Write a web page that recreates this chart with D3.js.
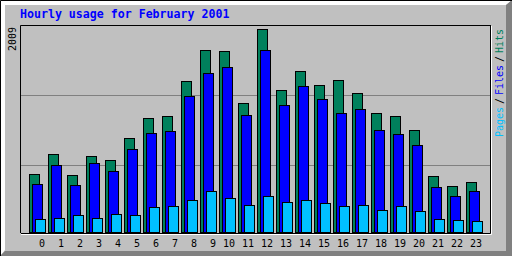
<!DOCTYPE html>
<html>
<head>
<meta charset="utf-8">
<script src="https://cdn.jsdelivr.net/npm/d3@7"></script>
<style>
    html, body { margin: 0; padding: 0; background: #c0c0c0; }
    svg { display: block; }
    text { font-family: "DejaVu Sans Mono", "Liberation Mono", monospace; }
</style>
</head>
<body>
<svg id="hourly" width="512" height="256"></svg>
<script>
// Data
const hours = [0,1,2,3,4,5,6,7,8,9,10,11,12,13,14,15,16,17,18,19,20,21,22,23];
const hits  = [574,772,564,752,713,930,1128,1148,1494,1801,1791,1277,2009,1405,1593,1455,1504,1376,1178,1148,1009,554,455,495];
const files = [475,663,465,683,604,821,980,1000,1346,1574,1633,1158,1801,1257,1445,1316,1178,1217,1009,970,861,445,356,406];
const pages = [129,139,168,139,178,168,247,257,317,406,336,267,356,297,317,287,257,267,218,257,208,129,119,109];
const maxLabel = "2009";
const title = "Hourly usage for February 2001";
const legendItems = ["Pages", "/", "Files", "/", "Hits"];

document.addEventListener("DOMContentLoaded", function() {

    // Display settings
    const W = 512, H = 256;
    const colors = {hits: "#00805c", files: "#0000ff", pages: "#00c0ff", grey: "#c0c0c0", dkgrey: "#808080"};
    const legendColors = [colors.pages, "#000000", colors.files, "#000000", colors.hits];

    const svg = d3.select("#hourly");

    ////////// Frame //////////

    svg.append("rect").attr("width", W).attr("height", H).attr("fill", colors.grey);

    // bevel: white top/left, dark grey bottom/right
    svg.append("polygon")
        .attr("points", `1,1 ${W-1},1 ${W-6},5 5,5 5,${H-6} 1,${H-1}`)
        .attr("fill", "#ffffff");
    svg.append("polygon")
        .attr("points", `${W},0 ${W},${H} 0,${H} 5,${H-5} ${W-6},${H-5} ${W-6},5`)
        .attr("fill", colors.dkgrey);
    svg.append("path")
        .attr("d", `M0.5,${H} V0.5 H${W}`)
        .attr("fill", "none").attr("stroke", "#000");

    ////////// Scales //////////

    const x = d3.scaleBand().domain(hours).range([26, 26 + 24 * 19]);
    const y = d3.scaleLinear().domain([0, d3.max(hits)]).range([232, 29]);
    const grid = d3.scaleLinear().domain([0, 3]).range([235, 25]);

    // Plot box
    svg.append("path")
        .attr("d", "M20.5,233 V25.5 H491")
        .attr("fill", "none").attr("stroke", "#000");
    svg.append("path")
        .attr("d", "M21,234.5 H491.5 V26")
        .attr("fill", "none").attr("stroke", "#fff");
    svg.append("path")
        .attr("d", "M21,233.5 H490.5 V26")
        .attr("fill", "none").attr("stroke", "#000");

    // Grid lines
    svg.append("g").selectAll("line")
        .data([1, 2])
        .join("line")
        .attr("x1", 21).attr("x2", 490)
        .attr("y1", d => Math.round(grid(d)) + 0.5)
        .attr("y2", d => Math.round(grid(d)) + 0.5)
        .attr("stroke", colors.dkgrey);

    ////////// Bars //////////

    const series = [
        {values: hits, color: colors.hits, offset: 3},
        {values: files, color: colors.files, offset: 6},
        {values: pages, color: colors.pages, offset: 9}
    ];

    const rows = [];
    hours.forEach((h, i) => {
        series.forEach(s => rows.push({hour: h, value: s.values[i], color: s.color, offset: s.offset}));
    });

    svg.append("g").selectAll("rect")
        .data(rows)
        .join("rect")
        .attr("x", d => x(d.hour) + d.offset + 0.5)
        .attr("y", d => Math.round(y(d.value)) + 0.5)
        .attr("width", 10)
        .attr("height", d => y(0) - Math.round(y(d.value)))
        .attr("fill", d => d.color)
        .attr("stroke", "#000")
        .attr("stroke-width", 1);

    ////////// Texts //////////

    // Hour labels
    svg.append("g").selectAll("text")
        .data(hours)
        .join("text")
        .attr("x", d => x(d) + x.bandwidth())
        .attr("y", 247)
        .attr("text-anchor", "end")
        .style("font-size", "10px")
        .attr("fill", "#000")
        .text(d => d);

    // Title
    svg.append("text")
        .attr("x", 20)
        .attr("y", 18)
        .style("font-size", "11.6px")
        .style("font-weight", "bold")
        .attr("fill", "#0000ff")
        .text(title);

    // Max value, vertical
    svg.append("text")
        .attr("transform", "translate(16,51) rotate(-90)")
        .style("font-size", "10px")
        .attr("fill", "#000")
        .text(maxLabel);

    // Legend, vertical, reading upward
    let pos = 0;
    const legendPos = legendItems.map(t => {
        const p = pos;
        pos += t.length * 6 + 3;
        return p;
    });
    svg.append("g")
        .attr("transform", "translate(503,137) rotate(-90)")
        .selectAll("text")
        .data(legendItems)
        .join("text")
        .attr("x", (d, i) => legendPos[i])
        .attr("y", 0)
        .style("font-size", "10px")
        .attr("fill", (d, i) => legendColors[i])
        .text(d => d);
});
</script>
</body>
</html>
